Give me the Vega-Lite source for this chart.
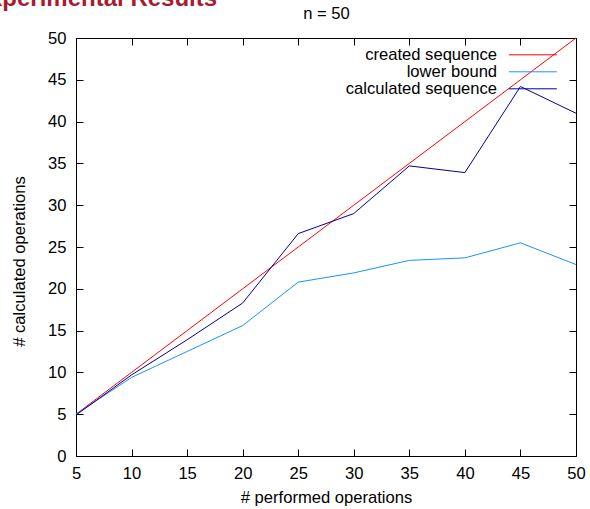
{
  "$schema": "https://vega.github.io/schema/vega-lite/v6.json",
  "width": 500,
  "height": 418,
  "autosize": "none",
  "padding": {"left": 76, "top": 38, "right": 14, "bottom": 53},
  "background": "white",
  "title": {"text": "Experimental Results", "anchor": "start", "frame": "group", "font": "Liberation Sans", "fontSize": 24, "fontWeight": "bold", "color": "#a51c30", "dx": -103, "dy": 5.5, "offset": 0},
  "config": {
    "view": {"stroke": null},
    "axis": {"labelFont": "Liberation Sans", "labelFontSize": 16.6, "labelColor": "black", "titleFont": "Liberation Sans", "titleFontSize": 16.6, "titleFontWeight": "normal", "titleColor": "black", "domainColor": "black", "domainWidth": 1, "tickColor": "black", "tickWidth": 1, "tickSize": -7, "grid": false, "labelFlush": false},
    "legend": {"labelFont": "Liberation Sans", "labelFontSize": 16.6, "labelColor": "black", "padding": 0}
  },
  "data": {"values": [
    {"x": 5, "y": 5, "series": "created sequence"},
    {"x": 10, "y": 10, "series": "created sequence"},
    {"x": 15, "y": 15, "series": "created sequence"},
    {"x": 20, "y": 20, "series": "created sequence"},
    {"x": 25, "y": 25, "series": "created sequence"},
    {"x": 30, "y": 30, "series": "created sequence"},
    {"x": 35, "y": 35, "series": "created sequence"},
    {"x": 40, "y": 40, "series": "created sequence"},
    {"x": 45, "y": 45, "series": "created sequence"},
    {"x": 50, "y": 50, "series": "created sequence"},
    {"x": 5, "y": 5.0, "series": "lower bound"},
    {"x": 10, "y": 9.4, "series": "lower bound"},
    {"x": 15, "y": 12.5, "series": "lower bound"},
    {"x": 20, "y": 15.6, "series": "lower bound"},
    {"x": 25, "y": 20.8, "series": "lower bound"},
    {"x": 30, "y": 21.9, "series": "lower bound"},
    {"x": 35, "y": 23.4, "series": "lower bound"},
    {"x": 40, "y": 23.7, "series": "lower bound"},
    {"x": 45, "y": 25.5, "series": "lower bound"},
    {"x": 50, "y": 22.9, "series": "lower bound"},
    {"x": 5, "y": 4.9, "series": "calculated sequence"},
    {"x": 10, "y": 9.7, "series": "calculated sequence"},
    {"x": 15, "y": 13.9, "series": "calculated sequence"},
    {"x": 20, "y": 18.3, "series": "calculated sequence"},
    {"x": 25, "y": 26.6, "series": "calculated sequence"},
    {"x": 30, "y": 29.0, "series": "calculated sequence"},
    {"x": 35, "y": 34.7, "series": "calculated sequence"},
    {"x": 40, "y": 33.9, "series": "calculated sequence"},
    {"x": 45, "y": 44.2, "series": "calculated sequence"},
    {"x": 50, "y": 41.0, "series": "calculated sequence"}
  ]},
  "layer": [
    {
      "mark": {"type": "line", "strokeWidth": 1},
      "encoding": {
        "x": {"field": "x", "type": "quantitative", "scale": {"domain": [5, 50], "nice": false, "zero": false},
              "axis": {"orient": "bottom", "values": [5, 10, 15, 20, 25, 30, 35, 40, 45, 50], "title": "# performed operations", "labelPadding": 16, "titlePadding": 8}},
        "y": {"field": "y", "type": "quantitative", "scale": {"domain": [0, 50], "nice": false, "zero": false},
              "axis": {"orient": "left", "values": [0, 5, 10, 15, 20, 25, 30, 35, 40, 45, 50], "title": "# calculated operations", "labelPadding": 17, "titlePadding": 20, "titleY": 223}},
        "color": {"field": "series", "type": "nominal",
                  "scale": {"domain": ["created sequence", "lower bound", "calculated sequence"], "range": ["#ff0000", "#1e90ff", "#000099"]},
                  "legend": {"title": null, "orient": "none", "legendX": 448.5, "legendY": 8.5, "symbolType": "M-4,0H4", "symbolSize": 144, "symbolStrokeWidth": 1, "labelAlign": "right", "labelOffset": -44, "rowPadding": 0}}
      }
    },
    {
      "mark": {"type": "point", "opacity": 0},
      "encoding": {
        "x": {"field": "x", "type": "quantitative", "scale": {"domain": [5, 50], "nice": false, "zero": false},
              "axis": {"orient": "top", "values": [5, 10, 15, 20, 25, 30, 35, 40, 45, 50], "labels": false, "title": "n = 50", "titlePadding": 16}},
        "y": {"field": "y", "type": "quantitative", "scale": {"domain": [0, 50], "nice": false, "zero": false},
              "axis": {"orient": "right", "values": [0, 5, 10, 15, 20, 25, 30, 35, 40, 45, 50], "labels": false, "title": null}}
      }
    }
  ],
  "resolve": {"axis": {"x": "independent", "y": "independent"}}
}
